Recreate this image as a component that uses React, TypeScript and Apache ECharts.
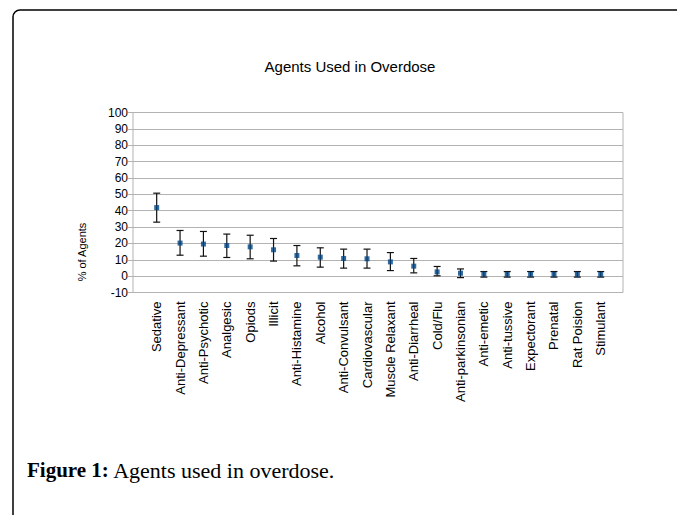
import React, { useEffect, useRef } from "react";
import * as echarts from "echarts";

const categories = [
  "Sedative",
  "Anti-Depressant",
  "Anti-Psychotic",
  "Analgesic",
  "Opiods",
  "Illicit",
  "Anti-Histamine",
  "Alcohol",
  "Anti-Convulsant",
  "Cardiovascular",
  "Muscle Relaxant",
  "Anti-Diarrheal",
  "Cold/Flu",
  "Anti-parkinsonian",
  "Anti-emetic",
  "Anti-tussive",
  "Expectorant",
  "Prenatal",
  "Rat Poision",
  "Stimulant",
];

const means = [41.9, 20.2, 19.6, 18.7, 17.9, 16.1, 12.6, 11.6, 10.8, 10.6, 8.7, 6.1, 2.6, 1.8, 1.2, 1.1, 1.1, 1.1, 1.1, 1.1];
const lows = [33.0, 12.8, 12.2, 11.4, 10.6, 9.2, 6.3, 5.5, 4.9, 4.9, 3.4, 2.0, 0.2, -0.9, -0.6, -0.6, -0.6, -0.6, -0.6, -0.6];
const highs = [50.7, 27.9, 27.3, 25.7, 25.0, 23.0, 18.7, 17.3, 16.5, 16.5, 14.4, 10.8, 5.9, 4.4, 2.8, 2.8, 2.8, 2.8, 2.8, 2.8];

const yMin = -10;
const yMax = 100;
const yStep = 10;

const chartTitle = "Agents Used in Overdose";
const yAxisTitle = "% of Agents";
const captionBold = "Figure 1:";
const captionText = " Agents used in overdose.";

export default function App() {
  const ref = useRef<HTMLDivElement>(null);

  useEffect(() => {
    if (!ref.current) return;
    const chart = echarts.init(ref.current, null, { renderer: "svg" });
    const font = "'Liberation Sans', Arial, sans-serif";
    const serif = "'Liberation Serif', 'Times New Roman', serif";

    chart.setOption({
      animation: false,
      backgroundColor: "#ffffff",
      grid: [
        {
          left: 133,
          top: 112.5,
          width: 490,
          height: 180,
          show: true,
          borderColor: "#b3b3b3",
          borderWidth: 1,
          backgroundColor: "transparent",
        },
        { left: 145, top: 112.5, width: 467.4, height: 180 },
      ],
      xAxis: [
        { gridIndex: 0, type: "value", min: 0, max: 1, show: false },
        {
          gridIndex: 1,
          type: "category",
          data: categories,
          boundaryGap: true,
          axisLine: { show: false },
          axisTick: { show: false },
          splitLine: { show: false },
          axisLabel: {
            rotate: 90,
            interval: 0,
            fontSize: 13,
            color: "#000",
            fontFamily: font,
            margin: 9,
          },
        },
      ],
      yAxis: [
        {
          gridIndex: 0,
          type: "value",
          min: yMin,
          max: yMax,
          interval: yStep,
          axisLine: { show: false },
          axisTick: { show: true, length: 5, lineStyle: { color: "#b3b3b3" } },
          axisLabel: { fontSize: 12, color: "#000", margin: 5, fontFamily: font },
          splitLine: { show: true, lineStyle: { color: "#b3b3b3", width: 1 } },
        },
        { gridIndex: 1, type: "value", min: yMin, max: yMax, interval: yStep, show: false },
      ],
      graphic: [
        {
          type: "rect",
          shape: { x: 13, y: 10, width: 720, height: 620, r: [7, 0, 0, 0] },
          style: { fill: "none", stroke: "#000", lineWidth: 1.5 },
          silent: true,
          z: 100,
        },
        {
          type: "text",
          x: 350,
          y: 66,
          style: {
            text: chartTitle,
            font: `15px ${font}`,
            fill: "#000",
            textAlign: "center",
            textVerticalAlign: "middle",
          },
        },
        {
          type: "text",
          x: 82,
          y: 252,
          rotation: Math.PI / 2,
          style: {
            text: yAxisTitle,
            font: `11px ${font}`,
            fill: "#000",
            textAlign: "center",
            textVerticalAlign: "middle",
          },
        },
        {
          type: "text",
          x: 27,
          y: 470,
          style: {
            text: `{b|${captionBold}}{n|${captionText}}`,
            textVerticalAlign: "middle",
            rich: {
              b: { fontFamily: serif, fontSize: 21, fontWeight: "bold", fill: "#000", color: "#000" },
              n: { fontFamily: serif, fontSize: 22, fill: "#000", color: "#000" },
            },
          },
        },
      ],
      series: [
        {
          type: "custom",
          xAxisIndex: 1,
          yAxisIndex: 1,
          z: 2,
          data: categories.map((_, i) => [i, lows[i], highs[i]]),
          renderItem: (_params: any, api: any) => {
            const x = api.value(0);
            const lo = api.coord([x, api.value(1)]);
            const hi = api.coord([x, api.value(2)]);
            const hw = 3.5;
            const style = { stroke: "#111", lineWidth: 1.2 };
            return {
              type: "group",
              children: [
                { type: "line", shape: { x1: lo[0], y1: lo[1], x2: hi[0], y2: hi[1] }, style },
                { type: "line", shape: { x1: lo[0] - hw, y1: lo[1], x2: lo[0] + hw, y2: lo[1] }, style },
                { type: "line", shape: { x1: hi[0] - hw, y1: hi[1], x2: hi[0] + hw, y2: hi[1] }, style },
              ],
            };
          },
        },
        {
          type: "scatter",
          xAxisIndex: 1,
          yAxisIndex: 1,
          z: 3,
          symbol: "rect",
          symbolSize: 5,
          itemStyle: { color: "#004586" },
          data: means,
        },
      ],
    });

    return () => chart.dispose();
  }, []);

  return (
    <div
      ref={ref}
      style={{ position: "absolute", left: 0, top: 0, width: 677, height: 515 }}
    />
  );
}
